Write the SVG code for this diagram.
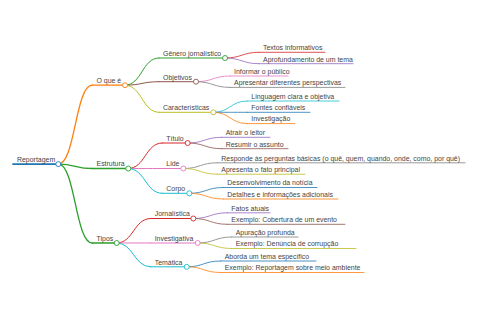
<svg xmlns="http://www.w3.org/2000/svg" width="480" height="320" viewBox="0 0 480 320">
<style>
text{font-family:"Liberation Sans",Arial,sans-serif;font-size:6.95px;fill:#444}
path,line{fill:none;stroke-linecap:round}
circle{fill:#fff;stroke-width:0.9}
.d0{stroke-width:1.8}
.d1{stroke-width:1.3}
.d2{stroke-width:1}
.d3{stroke-width:0.8}
.c0{stroke:#1f77b4}.c1{stroke:#ff7f0e}.c2{stroke:#2ca02c}.c3{stroke:#d62728}.c4{stroke:#9467bd}
.c5{stroke:#8c564b}.c6{stroke:#e377c2}.c7{stroke:#7f7f7f}.c8{stroke:#bcbd22}.c9{stroke:#17becf}
</style>
<rect width="480" height="320" fill="#fff"/>
<g id="connectors">
<path class="d1 c1" d="M58.3 164.1C75.3 164.1 75.3 85.2 92.3 85.2"/>
<path class="d1 c2" d="M58.3 164.1C75.3 164.1 75.3 168.5 92.3 168.5"/>
<path class="d1 c2" d="M58.3 164.1C75.3 164.1 75.3 243 92.3 243"/>
<path class="d2 c2" d="M125 85.2C142 85.2 142 58 159 58"/>
<path class="d2 c5" d="M125 85.2C142 85.2 142 81.7 159 81.7"/>
<path class="d2 c8" d="M125 85.2C142 85.2 142 112.3 159 112.3"/>
<path class="d3 c3" d="M225 58C242 58 242 52.3 259 52.3"/>
<path class="d3 c4" d="M225 58C242 58 242 63.7 259 63.7"/>
<path class="d3 c6" d="M196 81.7C213 81.7 213 76 230 76"/>
<path class="d3 c7" d="M196 81.7C213 81.7 213 87.4 230 87.4"/>
<path class="d3 c9" d="M213.3 112.3C230.3 112.3 230.3 101 247.3 101"/>
<path class="d3 c0" d="M213.3 112.3C230.3 112.3 230.3 112.3 247.3 112.3"/>
<path class="d3 c1" d="M213.3 112.3C230.3 112.3 230.3 123.6 247.3 123.6"/>
<path class="d2 c3" d="M128.3 168.5C145.3 168.5 145.3 143 162.3 143"/>
<path class="d2 c6" d="M128.3 168.5C145.3 168.5 145.3 168.5 162.3 168.5"/>
<path class="d2 c9" d="M128.3 168.5C145.3 168.5 145.3 193.3 162.3 193.3"/>
<path class="d3 c4" d="M187.7 143C204.7 143 204.7 137.3 221.7 137.3"/>
<path class="d3 c5" d="M187.7 143C204.7 143 204.7 148.7 221.7 148.7"/>
<path class="d3 c7" d="M183.3 168.5C200.3 168.5 200.3 162.8 217.3 162.8"/>
<path class="d3 c8" d="M183.3 168.5C200.3 168.5 200.3 174.2 217.3 174.2"/>
<path class="d3 c0" d="M189.3 193.3C206.3 193.3 206.3 187.5 223.3 187.5"/>
<path class="d3 c1" d="M189.3 193.3C206.3 193.3 206.3 199 223.3 199"/>
<path class="d2 c3" d="M116.7 243C133.7 243 133.7 218.5 150.7 218.5"/>
<path class="d2 c6" d="M116.7 243C133.7 243 133.7 243 150.7 243"/>
<path class="d2 c9" d="M116.7 243C133.7 243 133.7 266.8 150.7 266.8"/>
<path class="d3 c4" d="M193.3 218.5C210.3 218.5 210.3 212.8 227.3 212.8"/>
<path class="d3 c5" d="M193.3 218.5C210.3 218.5 210.3 224.3 227.3 224.3"/>
<path class="d3 c7" d="M197.7 243C214.7 243 214.7 237 231.7 237"/>
<path class="d3 c8" d="M197.7 243C214.7 243 214.7 248.5 231.7 248.5"/>
<path class="d3 c0" d="M186.7 266.8C203.7 266.8 203.7 261 220.7 261"/>
<path class="d3 c1" d="M186.7 266.8C203.7 266.8 203.7 272.5 220.7 272.5"/>
</g>
<g id="n-reportagem"><line class="d0 c0" x1="13" y1="164.1" x2="58.3" y2="164.1"/><text x="17" y="161.9">Reportagem</text><circle class="c0" cx="58.3" cy="164.1" r="2.5"/></g>
<g id="n-oque"><line class="d1 c1" x1="92.3" y1="85.2" x2="125" y2="85.2"/><text x="96.5" y="83">O que é</text><circle class="c1" cx="125" cy="85.2" r="2.5"/></g>
<g id="n-genero"><line class="d2 c2" x1="159" y1="58" x2="225" y2="58"/><text x="163" y="55.8">Gênero jornalístico</text><circle class="c2" cx="225" cy="58" r="2.5"/></g>
<g id="n-textos"><line class="d3 c3" x1="259" y1="52.3" x2="325" y2="52.3"/><text x="263" y="50.1">Textos informativos</text></g>
<g id="n-aprof"><line class="d3 c4" x1="259" y1="63.7" x2="353" y2="63.7"/><text x="263" y="61.5">Aprofundamento de um tema</text></g>
<g id="n-objetivos"><line class="d2 c5" x1="159" y1="81.7" x2="196" y2="81.7"/><text x="163" y="79.5">Objetivos</text><circle class="c5" cx="196" cy="81.7" r="2.5"/></g>
<g id="n-informar"><line class="d3 c6" x1="230" y1="76" x2="288" y2="76"/><text x="234" y="73.8">Informar o público</text></g>
<g id="n-apresentar"><line class="d3 c7" x1="230" y1="87.4" x2="345" y2="87.4"/><text x="234" y="85.2">Apresentar diferentes perspectivas</text></g>
<g id="n-caracteristicas"><line class="d2 c8" x1="159" y1="112.3" x2="213.3" y2="112.3"/><text x="163" y="110.1">Características</text><circle class="c8" cx="213.3" cy="112.3" r="2.5"/></g>
<g id="n-linguagem"><line class="d3 c9" x1="247.3" y1="101" x2="339" y2="101"/><text x="251.3" y="98.8">Linguagem clara e objetiva</text></g>
<g id="n-fontes"><line class="d3 c0" x1="247.3" y1="112.3" x2="310" y2="112.3"/><text x="251.3" y="110.1">Fontes confiáveis</text></g>
<g id="n-investigacao"><line class="d3 c1" x1="247.3" y1="123.6" x2="295" y2="123.6"/><text x="251.3" y="121.4">Investigação</text></g>
<g id="n-estrutura"><line class="d1 c2" x1="92.3" y1="168.5" x2="128.3" y2="168.5"/><text x="96.5" y="166.3">Estrutura</text><circle class="c2" cx="128.3" cy="168.5" r="2.5"/></g>
<g id="n-titulo"><line class="d2 c3" x1="162.3" y1="143" x2="187.7" y2="143"/><text x="166.3" y="140.8">Título</text><circle class="c3" cx="187.7" cy="143" r="2.5"/></g>
<g id="n-atrair"><line class="d3 c4" x1="221.7" y1="137.3" x2="270" y2="137.3"/><text x="225.7" y="135.1">Atrair o leitor</text></g>
<g id="n-resumir"><line class="d3 c5" x1="221.7" y1="148.7" x2="288" y2="148.7"/><text x="225.7" y="146.5">Resumir o assunto</text></g>
<g id="n-lide"><line class="d2 c6" x1="162.3" y1="168.5" x2="183.3" y2="168.5"/><text x="166.3" y="166.3">Lide</text><circle class="c6" cx="183.3" cy="168.5" r="2.5"/></g>
<g id="n-responde"><line class="d3 c7" x1="217.3" y1="162.8" x2="465" y2="162.8"/><text x="221.3" y="160.6">Responde às perguntas básicas (o quê, quem, quando, onde, como, por quê)</text></g>
<g id="n-apresenta"><line class="d3 c8" x1="217.3" y1="174.2" x2="305" y2="174.2"/><text x="221.3" y="172">Apresenta o fato principal</text></g>
<g id="n-corpo"><line class="d2 c9" x1="162.3" y1="193.3" x2="189.3" y2="193.3"/><text x="166.3" y="191.1">Corpo</text><circle class="c9" cx="189.3" cy="193.3" r="2.5"/></g>
<g id="n-desenvolvimento"><line class="d3 c0" x1="223.3" y1="187.5" x2="317" y2="187.5"/><text x="227.3" y="185.3">Desenvolvimento da notícia</text></g>
<g id="n-detalhes"><line class="d3 c1" x1="223.3" y1="199" x2="338" y2="199"/><text x="227.3" y="196.8">Detalhes e informações adicionais</text></g>
<g id="n-tipos"><line class="d1 c2" x1="92.3" y1="243" x2="116.7" y2="243"/><text x="96.5" y="240.8">Tipos</text><circle class="c2" cx="116.7" cy="243" r="2.5"/></g>
<g id="n-jornalistica"><line class="d2 c3" x1="150.7" y1="218.5" x2="193.3" y2="218.5"/><text x="154.7" y="216.3">Jornalística</text><circle class="c3" cx="193.3" cy="218.5" r="2.5"/></g>
<g id="n-fatos"><line class="d3 c4" x1="227.3" y1="212.8" x2="270" y2="212.8"/><text x="231.3" y="210.6">Fatos atuais</text></g>
<g id="n-cobertura"><line class="d3 c5" x1="227.3" y1="224.3" x2="345" y2="224.3"/><text x="231.3" y="222.1">Exemplo: Cobertura de um evento</text></g>
<g id="n-investigativa"><line class="d2 c6" x1="150.7" y1="243" x2="197.7" y2="243"/><text x="154.7" y="240.8">Investigativa</text><circle class="c6" cx="197.7" cy="243" r="2.5"/></g>
<g id="n-apuracao"><line class="d3 c7" x1="231.7" y1="237" x2="298" y2="237"/><text x="235.7" y="234.8">Apuração profunda</text></g>
<g id="n-denuncia"><line class="d3 c8" x1="231.7" y1="248.5" x2="356" y2="248.5"/><text x="235.7" y="246.3">Exemplo: Denúncia de corrupção</text></g>
<g id="n-tematica"><line class="d2 c9" x1="150.7" y1="266.8" x2="186.7" y2="266.8"/><text x="154.7" y="264.6">Temática</text><circle class="c9" cx="186.7" cy="266.8" r="2.5"/></g>
<g id="n-aborda"><line class="d3 c0" x1="220.7" y1="261" x2="316" y2="261"/><text x="224.7" y="258.8">Aborda um tema específico</text></g>
<g id="n-meioambiente"><line class="d3 c1" x1="220.7" y1="272.5" x2="364" y2="272.5"/><text x="224.7" y="270.3">Exemplo: Reportagem sobre meio ambiente</text></g>
</svg>
